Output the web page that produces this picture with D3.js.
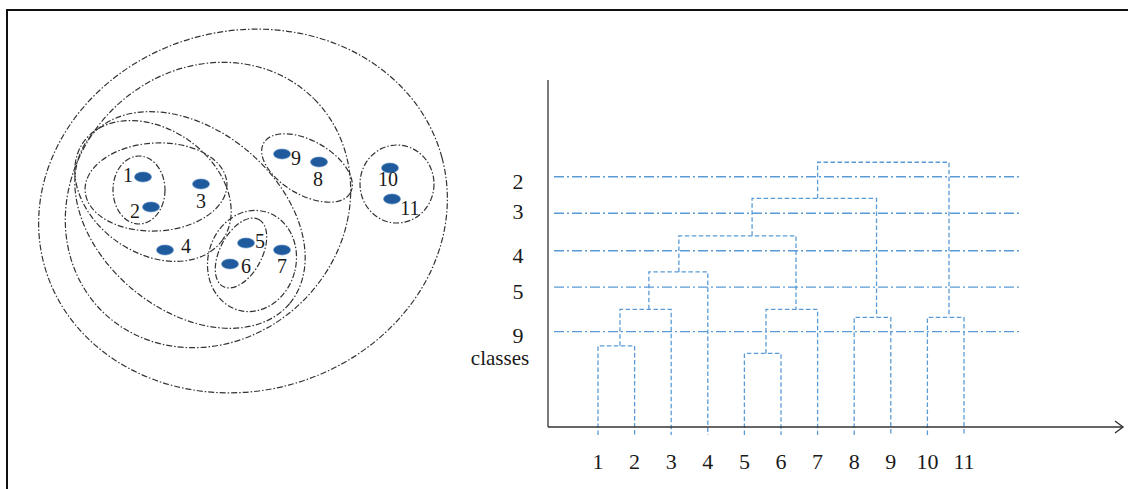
<!DOCTYPE html>
<html>
<head>
<meta charset="utf-8">
<script src="https://cdn.jsdelivr.net/npm/d3@7"></script>
<style>
  body { margin: 0; background: #fff; }
  text { font-family: "Liberation Serif", "Times New Roman", serif; fill: #1a1a1a; }
</style>
</head>
<body>
<div id="chart-area"></div>
<script>
// observations, in feature-space units
const pointLabels = ['1', '2', '3', '4', '5', '6', '7', '8', '9', '10', '11'];
const pointX = [25.75, 27.75, 40.25, 31.25, 51.5, 47.5, 60.5, 69.75, 60.5, 87.5, 88];
const pointY = [53.5, 46, 51.75, 35.25, 37, 31.75, 35.25, 57.25, 59.25, 55.75, 48];

// nested cluster envelopes (outermost first)
const hullCx = [50.75, 42, 37.5, 28.25, 29, 24.75, 53, 50.25, 66.75, 89.25];
const hullCy = [45, 46.5, 42.75, 50, 51, 50.25, 32.5, 34.5, 55.75, 51.75];
const hullRx = [51.5, 37.5, 32.5, 21.25, 17.75, 6.5, 11, 9.5, 12.5, 9.25];
const hullRy = [45, 33.75, 22.5, 15.5, 11, 8.5, 12.75, 5.25, 6.75, 9.75];
const hullAngle = [-15, -45, 40, 35, -3, 0, 15, -62, 30, 0];

// dendrogram: leaves are nodes 0..10, merge k creates node 11+k
const mergeLeft = [0, 11, 12, 4, 14, 7, 9, 13, 18, 19];
const mergeRight = [1, 2, 3, 5, 6, 8, 10, 15, 16, 17];
const mergeHeight = [23.4, 33.9, 44.7, 21.2, 33.9, 31.6, 31.6, 55.1, 65.9, 76.3];
const mergePos = [1.60, 2.39, 3.21, 5.59, 6.41, 8.61, 10.59, 5.21, 7.0, 8.8];

// cut levels and resulting number of classes
const cutClasses = ['2', '3', '4', '5', '9'];
const cutHeight = [72.1, 61.6, 50.8, 40.3, 27.5];

const width = 1128, height = 489;

const svg = d3.select('#chart-area')
  .append('svg')
  .attr('width', width)
  .attr('height', height);

// frame
svg.append('path')
  .attr('d', 'M7,489 L7,10 L1128,10')
  .attr('fill', 'none')
  .attr('stroke', '#111')
  .attr('stroke-width', 2);

// ---------- left panel: points and cluster ellipses ----------
const sx = d3.scaleLinear().domain([0, 100]).range([40, 440]);
const sy = d3.scaleLinear().domain([0, 90]).range([391, 31]);
const unit = sx(1) - sx(0);

const hulls = hullCx.map((cx, i) => ({
  cx: cx, cy: hullCy[i], rx: hullRx[i], ry: hullRy[i], a: hullAngle[i]
}));

svg.append('g')
  .selectAll('ellipse')
  .data(hulls)
  .enter()
  .append('ellipse')
  .attr('cx', 0)
  .attr('cy', 0)
  .attr('rx', d => d.rx * unit)
  .attr('ry', d => d.ry * unit)
  .attr('transform', d => `translate(${sx(d.cx)},${sy(d.cy)}) rotate(${d.a})`)
  .attr('fill', 'none')
  .attr('stroke', '#333')
  .attr('stroke-width', 1.2)
  .attr('stroke-dasharray', '6,2,1.5,2');

const points = pointLabels.map((l, i) => ({ label: l, x: pointX[i], y: pointY[i] }));
// label offsets from each dot, in pixels
const labelDx = [-15, -16, 0, 21, 14, 16, 0, -1, 14, -2, 18];
const labelDy = [5, 11, 24, 3, 5, 9, 23, 24, 11, 18, 16];

svg.append('g')
  .selectAll('ellipse')
  .data(points)
  .enter()
  .append('ellipse')
  .attr('cx', d => sx(d.x))
  .attr('cy', d => sy(d.y))
  .attr('rx', 8.5)
  .attr('ry', 5)
  .attr('fill', '#1f5b9c')
  .attr('stroke', '#5a8cc4')
  .attr('stroke-width', 0.6);

svg.append('g')
  .selectAll('text')
  .data(points)
  .enter()
  .append('text')
  .attr('x', (d, i) => sx(d.x) + labelDx[i])
  .attr('y', (d, i) => sy(d.y) + labelDy[i])
  .attr('text-anchor', 'middle')
  .attr('font-size', 20)
  .text(d => d.label);

// ---------- right panel: dendrogram ----------
const xLeaf = d3.scaleLinear().domain([1, 11]).range([598, 964]);
const yH = d3.scaleLinear().domain([0, 100]).range([427, 80]);
const axisX = 548;
const blue = '#5b9bd5';

const nodeX = id => id < 11 ? xLeaf(id + 1) : xLeaf(mergePos[id - 11]);
const nodeY = id => id < 11 ? yH(0) + 8 : yH(mergeHeight[id - 11]);

// cut lines
svg.append('g')
  .selectAll('line')
  .data(cutHeight)
  .enter()
  .append('line')
  .attr('x1', axisX + 6)
  .attr('x2', xLeaf(11) + 58)
  .attr('y1', d => yH(d))
  .attr('y2', d => yH(d))
  .attr('stroke', blue)
  .attr('stroke-width', 1.4)
  .attr('stroke-dasharray', '10,3,2,3');

const cutDy = [12, 6, 12, 12, 11];
svg.append('g')
  .selectAll('text')
  .data(cutClasses)
  .enter()
  .append('text')
  .attr('x', 518)
  .attr('y', (d, i) => yH(cutHeight[i]) + cutDy[i])
  .attr('text-anchor', 'middle')
  .attr('font-size', 22)
  .text(d => d);

svg.append('text')
  .attr('x', 500)
  .attr('y', 365)
  .attr('text-anchor', 'middle')
  .attr('font-size', 21)
  .text('classes');

// links
const links = [];
mergeLeft.forEach((l, k) => {
  const r = mergeRight[k];
  const h = yH(mergeHeight[k]);
  links.push(`M${nodeX(l)},${nodeY(l)} L${nodeX(l)},${h} L${nodeX(r)},${h} L${nodeX(r)},${nodeY(r)}`);
});

svg.append('g')
  .selectAll('path')
  .data(links)
  .enter()
  .append('path')
  .attr('d', d => d)
  .attr('fill', 'none')
  .attr('stroke', blue)
  .attr('stroke-width', 1.3)
  .attr('stroke-dasharray', '4.5,2.5');

// axes
svg.append('line')
  .attr('x1', axisX).attr('x2', axisX)
  .attr('y1', yH(100)).attr('y2', yH(0))
  .attr('stroke', '#333')
  .attr('stroke-width', 1.3);

svg.append('line')
  .attr('x1', axisX).attr('x2', 1123)
  .attr('y1', yH(0)).attr('y2', yH(0))
  .attr('stroke', '#333')
  .attr('stroke-width', 1.3);

svg.append('path')
  .attr('d', `M1115,${yH(0) - 6} L1123,${yH(0)} L1115,${yH(0) + 6}`)
  .attr('fill', 'none')
  .attr('stroke', '#333')
  .attr('stroke-width', 1.4);

// leaf labels
svg.append('g')
  .selectAll('text')
  .data(pointLabels)
  .enter()
  .append('text')
  .attr('x', (d, i) => xLeaf(i + 1))
  .attr('y', 469)
  .attr('text-anchor', 'middle')
  .attr('font-size', 22)
  .text(d => d);
</script>
</body>
</html>
